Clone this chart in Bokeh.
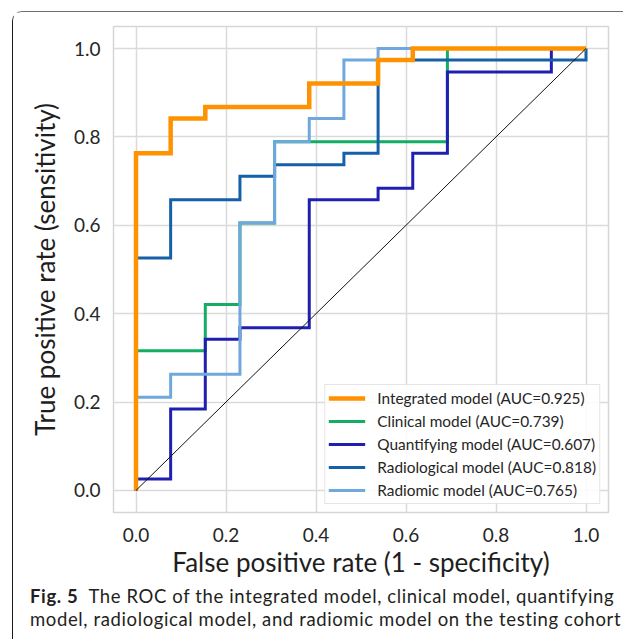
from bokeh.plotting import figure
from bokeh.models import Range1d, FixedTicker, NumeralTickFormatter, Legend, LegendItem, Div
from bokeh.layouts import column
from bokeh.embed import file_html
from bokeh.resources import INLINE

# ---- data (ROC step vertices) ----
integrated_fpr = [0, 0, 0.077, 0.077, 0.154, 0.154, 0.385, 0.385, 0.538, 0.538, 0.615, 0.615, 1.0]
integrated_tpr = [0, 0.763, 0.763, 0.842, 0.842, 0.868, 0.868, 0.921, 0.921, 0.974, 0.974, 1.0, 1.0]

clinical_fpr = [0, 0, 0.154, 0.154, 0.231, 0.231, 0.308, 0.308, 0.692, 0.692, 1.0]
clinical_tpr = [0, 0.316, 0.316, 0.421, 0.421, 0.605, 0.605, 0.789, 0.789, 1.0, 1.0]

quantifying_fpr = [0, 0, 0.077, 0.077, 0.154, 0.154, 0.231, 0.231, 0.385, 0.385,
                   0.538, 0.538, 0.615, 0.615, 0.692, 0.692, 0.923, 0.923, 1.0]
quantifying_tpr = [0, 0.026, 0.026, 0.184, 0.184, 0.342, 0.342, 0.368, 0.368, 0.658,
                   0.658, 0.684, 0.684, 0.763, 0.763, 0.947, 0.947, 1.0, 1.0]

radiological_fpr = [0, 0, 0.077, 0.077, 0.231, 0.231, 0.308, 0.308, 0.462, 0.462, 0.538, 0.538, 1.0, 1.0]
radiological_tpr = [0, 0.526, 0.526, 0.658, 0.658, 0.711, 0.711, 0.737, 0.737, 0.763, 0.763, 0.974, 0.974, 1.0]

radiomic_fpr = [0, 0, 0.077, 0.077, 0.231, 0.231, 0.308, 0.308, 0.385, 0.385, 0.462, 0.462, 0.538, 0.538, 1.0]
radiomic_tpr = [0, 0.211, 0.211, 0.263, 0.263, 0.605, 0.605, 0.789, 0.789, 0.842, 0.842, 0.974, 0.974, 1.0, 1.0]

chance_x = [0, 1]
chance_y = [0, 1]

labels = [
    "Integrated model (AUC=0.925)",
    "Clinical model (AUC=0.739)",
    "Quantifying model (AUC=0.607)",
    "Radiological model (AUC=0.818)",
    "Radiomic model (AUC=0.765)",
]
tick_values = [0.0, 0.2, 0.4, 0.6, 0.8, 1.0]

x_title = "False positive rate (1 - specificity)"
y_title = "True positive rate (sensitivity)"

# ---- figure ----
FONT = "Lato"
TXT = "#262626"

p = figure(width=600, height=572, output_backend="svg", toolbar_location=None,
           x_range=Range1d(-0.05, 1.05), y_range=Range1d(-0.05, 1.05),
           min_border_left=100, min_border_right=5, min_border_top=14, min_border_bottom=72,
           background_fill_color="white", border_fill_color="white")
p.outline_line_color = "#d6d6d6"
p.outline_line_width = 1.5

for ax in (p.xaxis, p.yaxis):
    ax.ticker = FixedTicker(ticks=tick_values)
    ax.formatter = NumeralTickFormatter(format="0.0")
    ax.axis_line_color = None
    ax.major_tick_line_color = None
    ax.minor_tick_line_color = None
    ax.major_tick_out = 0
    ax.major_tick_in = 0
    ax.major_label_text_font = FONT
    ax.major_label_text_font_size = "19px"
    ax.major_label_text_color = TXT
    ax.axis_label_text_font = FONT
    ax.axis_label_text_font_size = "26px"
    ax.axis_label_text_font_style = "normal"
    ax.axis_label_text_color = "#1e1e1e"

p.xaxis.axis_label = x_title
p.yaxis.axis_label = y_title
p.xaxis.major_label_standoff = 15
p.yaxis.major_label_standoff = 13
p.xaxis.axis_label_standoff = 1
p.yaxis.axis_label_standoff = 10

p.xgrid.grid_line_color = "#dadada"
p.ygrid.grid_line_color = "#dadada"
p.xgrid.grid_line_width = 1.5
p.ygrid.grid_line_width = 1.5

r_clin = p.line(clinical_fpr, clinical_tpr, line_color="#13ad64", line_width=3, line_join="miter")
r_quant = p.line(quantifying_fpr, quantifying_tpr, line_color="#2020b0", line_width=3, line_join="miter")
r_radl = p.line(radiological_fpr, radiological_tpr, line_color="#1560a8", line_width=3, line_join="miter")
r_radm = p.line(radiomic_fpr, radiomic_tpr, line_color="#6fa8dc", line_width=3, line_join="miter")
r_int = p.line(integrated_fpr, integrated_tpr, line_color="#ff9200", line_width=4.5, line_join="miter")
p.line(chance_x, chance_y, line_color="#111111", line_width=1)

legend = Legend(items=[
    LegendItem(label=labels[0], renderers=[r_int]),
    LegendItem(label=labels[1], renderers=[r_clin]),
    LegendItem(label=labels[2], renderers=[r_quant]),
    LegendItem(label=labels[3], renderers=[r_radl]),
    LegendItem(label=labels[4], renderers=[r_radm]),
], location="bottom_right")
legend.margin = 8
legend.padding = 3
legend.spacing = 3
legend.glyph_width = 37
legend.glyph_height = 20
legend.label_height = 20
legend.label_standoff = 12
legend.label_text_font = FONT
legend.label_text_font_size = "15.4px"
legend.label_text_color = TXT
legend.background_fill_color = "white"
legend.background_fill_alpha = 0.85
legend.border_line_color = "#cccccc"
legend.border_line_width = 1
p.add_layout(legend, "center")

caption_html = (
    '<div style="margin-top:-4px; padding:0 0 0 12px; font-family:Lato; font-size:18.5px; '
    'letter-spacing:0.62px; line-height:22.5px; color:#231f20; white-space:nowrap;">'
    '<b>Fig.&nbsp;5</b>&nbsp; The ROC of the integrated model, clinical model, quantifying<br>'
    'model, radiological model, and radiomic model on the testing cohort</div>'
)
cap = Div(text=caption_html, width=600, height=46)

layout = column(p, cap, margin=(11, 0, 0, 12),
                styles={"border-left": "1.5px solid #1a1a1a",
                        "border-top": "1.5px solid #707070",
                        "border-top-left-radius": "10px"})

open("out.html", "w").write(file_html(layout, INLINE))
